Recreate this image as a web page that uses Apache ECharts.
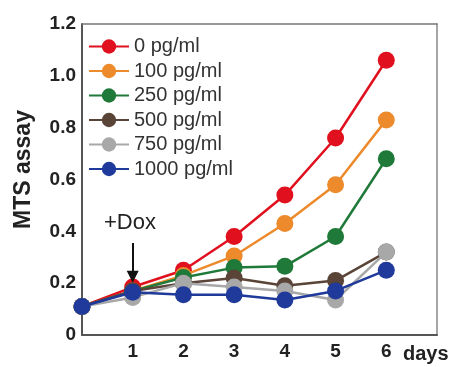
<!DOCTYPE html>
<html>
<head>
<meta charset="utf-8">
<script src="https://cdn.jsdelivr.net/npm/echarts@6/dist/echarts.min.js"></script>
<style>
  html, body { margin: 0; padding: 0; background: #fff; }
  #chart { width: 456px; height: 367px; }
</style>
</head>
<body>
<div id="chart"></div>
<script>
// days after seeding
const days = [0, 1, 2, 3, 4, 5, 6];
const doses = ['0 pg/ml', '100 pg/ml', '250 pg/ml', '500 pg/ml', '750 pg/ml', '1000 pg/ml'];
const colors = ['#e0101e', '#ec8a2c', '#1f7a3a', '#5a4438', '#a8a8a8', '#1f3a9a'];

// MTS readings per dose
const dose0    = [0.11, 0.185, 0.25, 0.38, 0.54, 0.76, 1.06];
const dose100  = [0.11, 0.17, 0.23, 0.305, 0.43, 0.58, 0.83];
const dose250  = [0.11, 0.17, 0.222, 0.26, 0.265, 0.38, 0.68];
const dose500  = [0.11, 0.17, 0.2, 0.22, 0.19, 0.21, 0.32];
const dose750  = [0.11, 0.145, 0.2, 0.185, 0.17, 0.135, 0.32];
const dose1000 = [0.11, 0.165, 0.155, 0.155, 0.135, 0.17, 0.25];
const values = [dose0, dose100, dose250, dose500, dose750, dose1000];

const yTicks = [0, 0.2, 0.4, 0.6, 0.8, 1.0, 1.2];
const xTicks = [1, 2, 3, 4, 5, 6];

const font = 'Liberation Sans, Arial, sans-serif';
const chart = echarts.init(document.getElementById('chart'));

const series = doses.map((name, i) => ({
  name: name,
  type: 'line',
  data: days.map((d, j) => [d, values[i][j]]),
  symbol: 'circle',
  symbolSize: 17,
  color: colors[i],
  lineStyle: { width: 2.5 },
  z: 2 + i
}));

// +Dox arrow
series[0].markLine = {
  silent: true,
  symbol: ['none', 'triangle'],
  symbolSize: [12, 12],
  label: { show: false },
  lineStyle: { color: '#111', width: 2, type: 'solid' },
  data: [[{ coord: [1, 0.355] }, { coord: [1, 0.225] }]]
};

chart.setOption({
  backgroundColor: '#fff',
  animation: false,
  grid: { left: 82, right: 19, top: 24, bottom: 32 },
  legend: {
    orient: 'vertical',
    left: 88, top: 36, padding: 0,
    itemWidth: 40, itemHeight: 18, itemGap: 3.5,
    data: doses,
    textStyle: { fontFamily: font, fontSize: 20, color: '#333', lineHeight: 21 }
  },
  xAxis: [{
    type: 'value', min: 0, max: 7, interval: 1,
    axisLine: { lineStyle: { color: '#555', width: 2 } },
    axisTick: { show: false },
    splitLine: { show: false },
    axisLabel: {
      margin: 7, fontFamily: font, fontSize: 19, fontWeight: 'bold', color: '#222',
      formatter: v => xTicks.includes(v) ? String(v) : ''
    }
  }, {
    type: 'value', min: 0, max: 7, position: 'top',
    axisLine: { show: true, onZero: false, lineStyle: { color: '#777', width: 1.5 } },
    axisTick: { show: false }, axisLabel: { show: false }, splitLine: { show: false }
  }],
  yAxis: [{
    type: 'value', min: 0, max: 1.2, interval: 0.2,
    name: 'MTS assay', nameLocation: 'middle', nameGap: 47,
    nameTextStyle: { fontFamily: font, fontSize: 23, fontWeight: 'bold', color: '#222', padding: [0, 0, 0, 20] },
    axisLine: { show: true, lineStyle: { color: '#555', width: 2 } },
    axisTick: { show: false },
    splitLine: { show: false },
    axisLabel: {
      margin: 6, fontFamily: font, fontSize: 19, fontWeight: 'bold', color: '#222',
      formatter: v => {
        const t = yTicks.find(y => Math.abs(y - v) < 1e-6);
        return t === undefined ? '' : (t === 0 ? '0' : t.toFixed(1));
      }
    }
  }, {
    type: 'value', min: 0, max: 1.2, position: 'right',
    axisLine: { show: true, onZero: false, lineStyle: { color: '#888', width: 1.5 } },
    axisTick: { show: false }, axisLabel: { show: false }, splitLine: { show: false }
  }],
  graphic: [
    { type: 'text', left: 104, top: 212,
      style: { text: '+Dox', font: '22px ' + font, fill: '#222' } },
    { type: 'text', left: 403, top: 344,
      style: { text: 'days', font: 'bold 20px ' + font, fill: '#222' } }
  ],
  series: series
});
</script>
</body>
</html>
